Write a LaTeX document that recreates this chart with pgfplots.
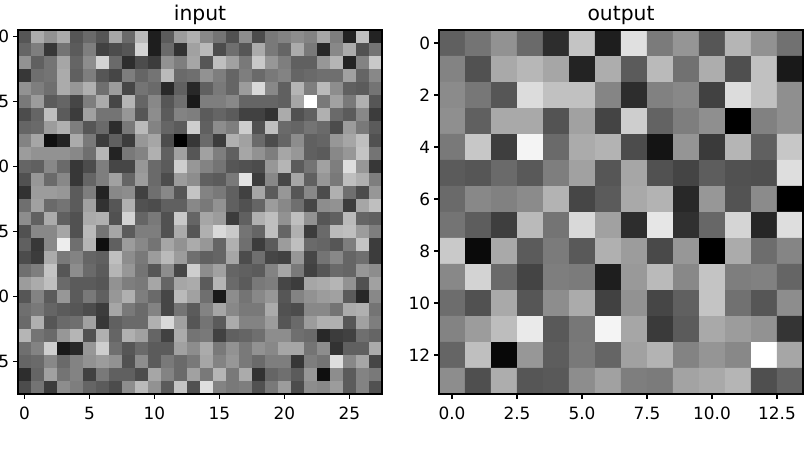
\documentclass[border=0pt]{standalone}
\usepackage{fontspec}
\setmainfont{DejaVu Sans}
\usepackage{pgfplots}
\pgfplotsset{compat=1.18}
\pgfplotsset{
  heat/.style={
    width=364pt,height=364pt,scale only axis,
    y dir=reverse,axis on top,
    colormap={gr}{gray(0cm)=(0);gray(1cm)=(1)},
    point meta min=0,point meta max=255,
    tick align=outside,major tick length=4.9pt,
    xtick pos=bottom,ytick pos=left,
    axis line style={line width=1.1pt,black},
    every tick/.style={line width=1.1pt,black},
    tick label style={font=\fontsize{16.9}{20}\selectfont},
    /pgf/number format/assume math mode=true,
    xticklabel style={yshift=-4.5pt},
    yticklabel style={xshift=-0.5pt},
    title style={font=\fontsize{20.3}{24}\selectfont,yshift=-4pt},
  },
}
\begin{document}
\begin{tikzpicture}
\useasboundingbox (0,0) rectangle (812pt,452pt);
\clip (0,0) rectangle (812pt,452pt);
\begin{axis}[heat,anchor=south west,at={(18pt,58pt)},title={input},
  xmin=-0.5,xmax=27.5,ymin=-0.5,ymax=27.5,
  xtick={0,5,10,15,20,25},ytick={0,5,10,15,20,25},
  yticklabels={0,5,10,15,20,25}]
\addplot[matrix plot*,mesh/cols=28,point meta=explicit] table[header=false,row sep=\\,
  x expr={\coordindex-28*int((\coordindex+0.5)/28)},y expr={int((\coordindex+0.5)/28)},meta index=0] {
85\\170\\145\\170\\85\\105\\85\\165\\105\\185\\30\\90\\155\\175\\135\\115\\80\\140\\75\\120\\130\\140\\130\\165\\125\\35\\190\\35\\
100\\125\\55\\115\\90\\125\\65\\75\\85\\210\\30\\105\\50\\160\\185\\75\\110\\85\\170\\120\\100\\170\\120\\40\\135\\170\\80\\115\\
145\\95\\115\\165\\100\\140\\210\\105\\45\\75\\60\\145\\125\\165\\85\\190\\160\\120\\200\\150\\125\\95\\95\\150\\180\\35\\130\\200\\
55\\110\\115\\170\\95\\125\\85\\70\\125\\100\\115\\185\\105\\110\\145\\125\\100\\125\\105\\120\\130\\100\\105\\110\\110\\160\\100\\135\\
145\\125\\110\\170\\150\\175\\110\\155\\70\\115\\105\\40\\95\\40\\95\\120\\100\\155\\215\\135\\95\\180\\125\\185\\140\\95\\90\\115\\
120\\155\\90\\100\\70\\125\\170\\70\\180\\100\\135\\85\\110\\25\\125\\125\\135\\100\\100\\100\\95\\165\\255\\120\\160\\120\\175\\85\\
75\\100\\190\\90\\60\\160\\115\\115\\150\\85\\140\\90\\130\\125\\90\\100\\90\\65\\65\\50\\170\\80\\95\\175\\105\\90\\135\\60\\
100\\105\\155\\175\\125\\85\\105\\45\\120\\185\\130\\100\\90\\205\\95\\140\\125\\205\\80\\190\\105\\100\\115\\105\\75\\155\\120\\90\\
130\\165\\15\\35\\170\\120\\60\\95\\60\\150\\165\\75\\0\\55\\105\\60\\175\\160\\105\\75\\100\\140\\95\\100\\150\\165\\190\\80\\
155\\145\\145\\145\\135\\110\\180\\35\\120\\130\\175\\95\\160\\85\\160\\125\\95\\165\\145\\125\\165\\150\\95\\90\\135\\150\\195\\115\\
100\\95\\135\\105\\55\\75\\125\\70\\70\\150\\105\\90\\205\\150\\130\\115\\85\\80\\75\\150\\180\\90\\115\\160\\125\\220\\150\\55\\
80\\150\\105\\135\\55\\100\\125\\160\\100\\155\\105\\75\\155\\140\\95\\90\\120\\225\\60\\135\\70\\165\\95\\150\\120\\190\\175\\125\\
50\\155\\155\\150\\90\\125\\35\\135\\140\\65\\110\\135\\85\\195\\130\\120\\95\\65\\165\\90\\150\\85\\135\\75\\175\\110\\75\\150\\
110\\160\\105\\115\\90\\160\\50\\85\\175\\80\\75\\95\\95\\135\\120\\145\\95\\80\\100\\155\\135\\110\\70\\140\\145\\60\\165\\190\\
140\\95\\170\\95\\80\\170\\175\\80\\210\\100\\120\\80\\200\\100\\165\\155\\60\\95\\175\\190\\145\\190\\145\\85\\95\\185\\100\\95\\
80\\135\\135\\165\\80\\185\\115\\165\\90\\125\\125\\80\\170\\85\\175\\215\\200\\115\\100\\190\\100\\175\\60\\105\\185\\190\\155\\125\\
95\\55\\135\\235\\110\\180\\15\\95\\155\\135\\115\\165\\145\\170\\150\\100\\175\\110\\60\\90\\155\\190\\105\\100\\85\\125\\195\\60\\
75\\60\\170\\120\\130\\100\\95\\190\\140\\120\\155\\185\\155\\110\\95\\100\\165\\75\\110\\70\\65\\150\\70\\115\\135\\100\\110\\60\\
110\\125\\195\\85\\140\\105\\90\\180\\150\\115\\85\\140\\70\\205\\140\\160\\100\\95\\90\\130\\165\\120\\65\\85\\105\\100\\150\\140\\
155\\170\\190\\105\\90\\90\\85\\145\\125\\120\\165\\100\\165\\170\\90\\180\\105\\90\\120\\125\\70\\60\\165\\170\\180\\145\\80\\160\\
85\\130\\90\\150\\90\\120\\95\\150\\175\\125\\105\\70\\185\\160\\110\\25\\140\\115\\135\\150\\85\\130\\145\\155\\160\\90\\40\\135\\
110\\120\\100\\90\\85\\75\\60\\165\\120\\105\\130\\70\\115\\90\\130\\165\\135\\120\\120\\170\\80\\75\\135\\135\\115\\170\\175\\115\\
105\\175\\85\\105\\110\\160\\55\\95\\105\\105\\175\\215\\160\\85\\115\\90\\170\\130\\130\\155\\85\\105\\155\\175\\175\\85\\160\\125\\
180\\115\\105\\150\\180\\80\\175\\100\\175\\160\\100\\65\\170\\115\\120\\65\\95\\100\\110\\140\\140\\110\\105\\40\\60\\65\\110\\100\\
110\\130\\205\\25\\40\\150\\205\\110\\85\\105\\90\\90\\160\\140\\170\\120\\145\\120\\145\\135\\165\\165\\115\\140\\50\\95\\95\\170\\
100\\105\\135\\105\\130\\145\\155\\145\\80\\140\\90\\120\\105\\120\\165\\130\\150\\120\\105\\125\\125\\55\\125\\115\\220\\135\\165\\70\\
45\\100\\160\\115\\130\\65\\120\\95\\95\\75\\165\\130\\105\\160\\120\\180\\120\\170\\50\\100\\110\\90\\150\\15\\140\\90\\130\\120\\
75\\115\\60\\140\\125\\100\\90\\75\\140\\185\\145\\90\\195\\80\\220\\130\\120\\125\\80\\120\\155\\75\\140\\135\\155\\90\\130\\80\\
};
\end{axis}
\begin{axis}[heat,anchor=south west,at={(439pt,58pt)},title={output},
  xmin=-0.5,xmax=13.5,ymin=-0.5,ymax=13.5,
  xtick={0,2.5,5,7.5,10,12.5},xticklabels={0.0,2.5,5.0,7.5,10.0,12.5},
  ytick={0,2,4,6,8,10,12},yticklabels={0,2,4,6,8,10,12}]
\addplot[matrix plot*,mesh/cols=14,point meta=explicit] table[header=false,row sep=\\,
  x expr={\coordindex-14*int((\coordindex+0.5)/14)},y expr={int((\coordindex+0.5)/14)},meta index=0] {
95\\115\\145\\105\\45\\195\\30\\222\\122\\148\\85\\180\\145\\112\\
130\\80\\168\\182\\165\\35\\172\\90\\185\\112\\172\\78\\192\\25\\
138\\118\\85\\218\\192\\192\\132\\45\\128\\135\\65\\218\\192\\142\\
142\\95\\168\\168\\82\\160\\68\\205\\98\\125\\142\\0\\128\\142\\
120\\198\\62\\242\\105\\170\\178\\75\\20\\148\\58\\180\\95\\198\\
90\\85\\105\\88\\125\\160\\85\\165\\80\\68\\92\\80\\78\\220\\
105\\135\\128\\138\\178\\70\\90\\168\\178\\40\\150\\82\\138\\0\\
115\\92\\62\\185\\115\\215\\160\\45\\228\\48\\102\\212\\38\\220\\
200\\10\\168\\90\\122\\88\\175\\155\\72\\150\\0\\170\\108\\132\\
135\\210\\105\\68\\125\\122\\30\\152\\185\\135\\195\\125\\128\\100\\
108\\80\\168\\85\\140\\170\\65\\145\\70\\95\\195\\112\\85\\140\\
130\\155\\188\\232\\88\\118\\242\\165\\58\\90\\168\\155\\145\\52\\
100\\190\\8\\150\\92\\120\\100\\160\\178\\130\\148\\135\\255\\165\\
140\\78\\172\\85\\88\\140\\160\\125\\122\\162\\168\\180\\78\\98\\
};
\end{axis}
\end{tikzpicture}
\end{document}
